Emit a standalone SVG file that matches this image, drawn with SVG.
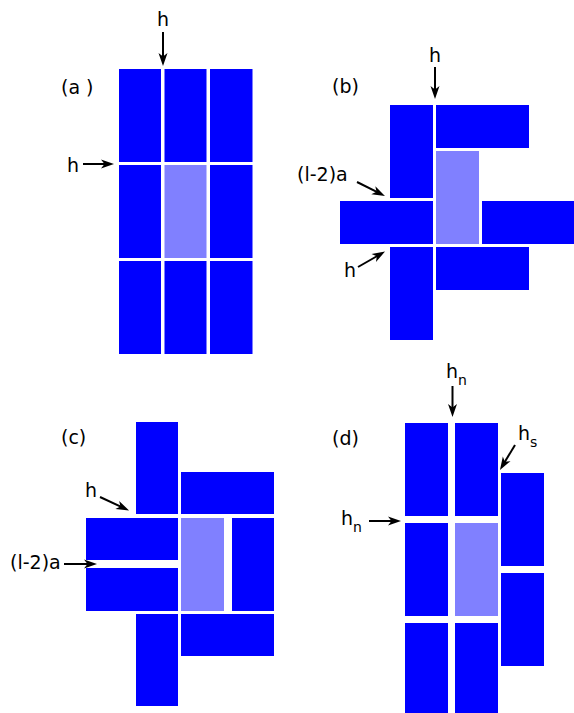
<svg xmlns="http://www.w3.org/2000/svg" width="574" height="713" viewBox="0 0 574 713">
<style>
.b{fill:#0000ff}
.l{fill:#8080ff}
.t{font-family:"DejaVu Sans",sans-serif;font-size:19px;fill:#000}
.s{font-size:14px}
.a{stroke:#000;stroke-width:2;fill:none;marker-end:url(#ah)}
</style>
<defs>
<marker id="ah" markerUnits="userSpaceOnUse" viewBox="-6 -6 15 12" markerWidth="15" markerHeight="12" refX="0" refY="0" orient="auto">
<path d="M8,0 L-5,-4.5 L-1.5,0 L-5,4.5 Z" fill="#000"/>
</marker>
</defs>
<rect width="574" height="713" fill="#fff"/>
<g id="panel-a">
<rect id="a11" class="b" x="119" y="69" width="42" height="93"/>
<rect id="a12" class="b" x="164.5" y="69" width="42" height="93"/>
<rect id="a13" class="b" x="210" y="69" width="42.5" height="93"/>
<rect id="a21" class="b" x="119" y="165" width="42" height="93"/>
<rect id="a22" class="l" x="164.5" y="165" width="42" height="93"/>
<rect id="a23" class="b" x="210" y="165" width="42.5" height="93"/>
<rect id="a31" class="b" x="119" y="261" width="42" height="93"/>
<rect id="a32" class="b" x="164.5" y="261" width="42" height="93"/>
<rect id="a33" class="b" x="210" y="261" width="42.5" height="93"/>
</g>
<g id="panel-b">
<rect id="b-tl" class="b" x="390" y="105" width="43" height="93"/>
<rect id="b-tr" class="b" x="436" y="105" width="93" height="43"/>
<rect id="b-c" class="l" x="436" y="151" width="43" height="93"/>
<rect id="b-l" class="b" x="340" y="201" width="93" height="43"/>
<rect id="b-r" class="b" x="482" y="201" width="92" height="43"/>
<rect id="b-br" class="b" x="436" y="247" width="93" height="43"/>
<rect id="b-bl" class="b" x="390" y="247" width="43" height="93"/>
</g>
<g id="panel-c">
<rect id="c-t" class="b" x="136" y="422" width="42" height="92"/>
<rect id="c-tr" class="b" x="181" y="472" width="93" height="42"/>
<rect id="c-l1" class="b" x="86" y="518" width="92" height="42"/>
<rect id="c-l2" class="b" x="86" y="568" width="92" height="43"/>
<rect id="c-c" class="l" x="181" y="518" width="43" height="93"/>
<rect id="c-r" class="b" x="232" y="518" width="42" height="93"/>
<rect id="c-br" class="b" x="181" y="614" width="93" height="42"/>
<rect id="c-b" class="b" x="136" y="614" width="42" height="92"/>
</g>
<g id="panel-d">
<rect id="d11" class="b" x="405" y="423" width="43" height="93"/>
<rect id="d12" class="b" x="455" y="423" width="43" height="93"/>
<rect id="d21" class="b" x="405" y="523" width="43" height="93"/>
<rect id="d22" class="l" x="455" y="523" width="43" height="93"/>
<rect id="d31" class="b" x="405" y="623" width="43" height="93"/>
<rect id="d32" class="b" x="455" y="623" width="43" height="93"/>
<rect id="d3a" class="b" x="501" y="473" width="43" height="93"/>
<rect id="d3b" class="b" x="501" y="573" width="43" height="93"/>
</g>
<g id="connectors">
<path class="a" d="M163,32 L163,58"/>
<path class="a" d="M83,164 L106,164"/>
<path class="a" d="M435,67 L435,91"/>
<path class="a" d="M357,182 L377.8,192.4"/>
<path class="a" d="M358,267 L378.1,255.5"/>
<path class="a" d="M100,497 L121.8,507.1"/>
<path class="a" d="M64,564 L89,564"/>
<path class="a" d="M452.5,386 L452.5,409"/>
<path class="a" d="M515,445 L504.1,463.1"/>
<path class="a" d="M369,521 L393,521"/>
</g>
<g id="labels">
<text class="t" x="61" y="94">(a )</text>
<text class="t" x="332" y="93">(b)</text>
<text class="t" x="61" y="444">(c)</text>
<text class="t" x="332" y="445">(d)</text>
<text class="t" x="163" y="26" text-anchor="middle">h</text>
<text class="t" x="73" y="171.5" text-anchor="middle">h</text>
<text class="t" x="435" y="62" text-anchor="middle">h</text>
<text class="t" x="297" y="181">(l-2)a</text>
<text class="t" x="350" y="277" text-anchor="middle">h</text>
<text class="t" x="91" y="497" text-anchor="middle">h</text>
<text class="t" x="10" y="569">(l-2)a</text>
<text class="t" x="446" y="378">h<tspan class="s" dy="7">n</tspan></text>
<text class="t" x="518" y="440">h<tspan class="s" dy="7">s</tspan></text>
<text class="t" x="341" y="525">h<tspan class="s" dy="7">n</tspan></text>
</g>
</svg>
